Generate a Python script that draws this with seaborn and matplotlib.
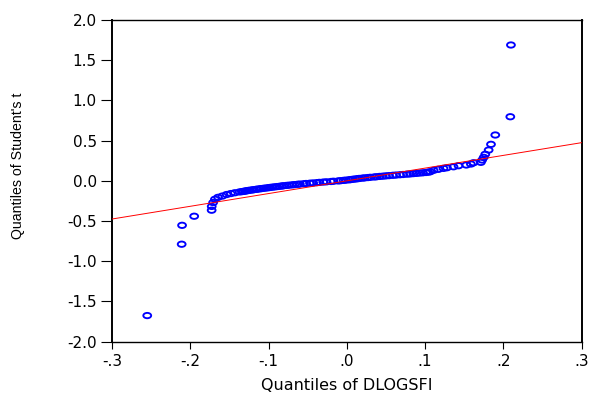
import matplotlib
matplotlib.use("Agg")
import matplotlib.pyplot as plt
from matplotlib.path import Path
from matplotlib.transforms import Affine2D
import pandas as pd
import seaborn as sns

# Sorted sample quantiles of DLOGSFI (x) against quantiles of Student's t (y)
lower_x = [-0.255, -0.211, -0.2105, -0.195, -0.1727, -0.1726, -0.1708, -0.1685,
           -0.1645, -0.1590, -0.1535, -0.1482, -0.1430]
lower_y = [-1.675, -0.788, -0.553, -0.440, -0.365, -0.318, -0.270, -0.229,
           -0.205, -0.189, -0.170, -0.158, -0.148]

middle_x = [-0.137, -0.134, -0.132, -0.130, -0.128, -0.126, -0.124, -0.121, -0.119,
            -0.116, -0.114, -0.111, -0.109, -0.106, -0.103, -0.100, -0.098, -0.095,
            -0.092, -0.089, -0.086, -0.083, -0.081, -0.077, -0.074, -0.070, -0.067,
            -0.063, -0.060, -0.055, -0.052, -0.047, -0.043, -0.038, -0.035, -0.030,
            -0.026, -0.020, -0.017, -0.011, -0.008, -0.004, -0.001, 0.003, 0.005,
            0.008, 0.011, 0.014, 0.016, 0.020, 0.023, 0.027, 0.030, 0.035, 0.038,
            0.042, 0.046, 0.050, 0.054, 0.059, 0.063, 0.068, 0.072, 0.077, 0.081,
            0.085, 0.089, 0.093, 0.097, 0.101, 0.104]
middle_y = [-0.138, -0.134, -0.131, -0.127, -0.124, -0.120, -0.117, -0.113, -0.110,
            -0.106, -0.103, -0.099, -0.096, -0.092, -0.089, -0.085, -0.082, -0.078,
            -0.075, -0.071, -0.068, -0.064, -0.061, -0.057, -0.054, -0.050, -0.047,
            -0.043, -0.040, -0.036, -0.033, -0.029, -0.026, -0.022, -0.019, -0.015,
            -0.012, -0.008, -0.005, -0.001, 0.002, 0.006, 0.009, 0.013, 0.016,
            0.020, 0.023, 0.027, 0.030, 0.034, 0.037, 0.041, 0.044, 0.048, 0.051,
            0.055, 0.058, 0.062, 0.065, 0.069, 0.072, 0.076, 0.079, 0.083, 0.086,
            0.090, 0.093, 0.097, 0.100, 0.104, 0.108]

upper_x = [0.1066, 0.111, 0.117, 0.1236, 0.128, 0.1364, 0.1428, 0.1527, 0.1586,
           0.162, 0.1714, 0.173, 0.175, 0.177, 0.1813, 0.1843, 0.1898, 0.209, 0.2098]
upper_y = [0.113, 0.131, 0.143, 0.155, 0.163, 0.175, 0.188, 0.197, 0.209,
           0.225, 0.230, 0.259, 0.292, 0.330, 0.383, 0.454, 0.570, 0.797, 1.689]

# Reference line
ref_intercept = 0.0
ref_slope = 1.582

x_ticks = [-0.3, -0.2, -0.1, 0.0, 0.1, 0.2, 0.3]
x_tick_labels = ["-.3", "-.2", "-.1", ".0", ".1", ".2", ".3"]
y_ticks = [-2.0, -1.5, -1.0, -0.5, 0.0, 0.5, 1.0, 1.5, 2.0]
y_tick_labels = ["-2.0", "-1.5", "-1.0", "-0.5", "0.0", "0.5", "1.0", "1.5", "2.0"]

df = pd.DataFrame({
    "dlogsfi": lower_x + middle_x + upper_x,
    "student_t": lower_y + middle_y + upper_y,
})

sns.set_theme(style="white")
plt.rcParams["font.family"] = ["DejaVu Sans"]

fig = plt.figure(figsize=(5.89, 4.03), dpi=100)
ax = fig.add_axes([0.1902, 0.1521, 0.7971, 0.7983])

# slightly flattened open circle
ellipse = Path.unit_circle().transformed(Affine2D().scale(1.0, 0.68))
sns.scatterplot(data=df, x="dlogsfi", y="student_t", marker=ellipse, s=32,
                facecolor="none", edgecolor="#0000ff", linewidth=1.35,
                legend=False, ax=ax, zorder=2)
ax.axline((0.0, ref_intercept), slope=ref_slope, color="#ff0000", lw=0.7, zorder=3)

ax.set_xlim(-0.3, 0.3)
ax.set_ylim(-2.0, 2.0)
ax.set_xticks(x_ticks)
ax.set_xticklabels(x_tick_labels)
ax.set_yticks(y_ticks)
ax.set_yticklabels(y_tick_labels)

ax.tick_params(axis="y", left=True, direction="out", length=8, width=0.8,
               pad=3, labelsize=11, colors="black")
ax.tick_params(axis="x", bottom=True, direction="out", length=5, width=0.8,
               pad=4, labelsize=11, colors="black")

for side, lw in (("left", 1.4), ("right", 1.4), ("top", 1.0), ("bottom", 1.0)):
    ax.spines[side].set_visible(True)
    ax.spines[side].set_color("black")
    ax.spines[side].set_linewidth(lw)

ax.set_xlabel("Quantiles of DLOGSFI", fontsize=11.5, color="black")
ax.xaxis.set_label_coords(0.5, -0.113)
ax.set_ylabel("Quantiles of Student's t", fontsize=10.2, color="black",
              family=["Liberation Sans", "DejaVu Sans"], va="center")
ax.yaxis.set_label_coords(-0.200, 0.546)

fig.savefig("out.png", dpi=100)
